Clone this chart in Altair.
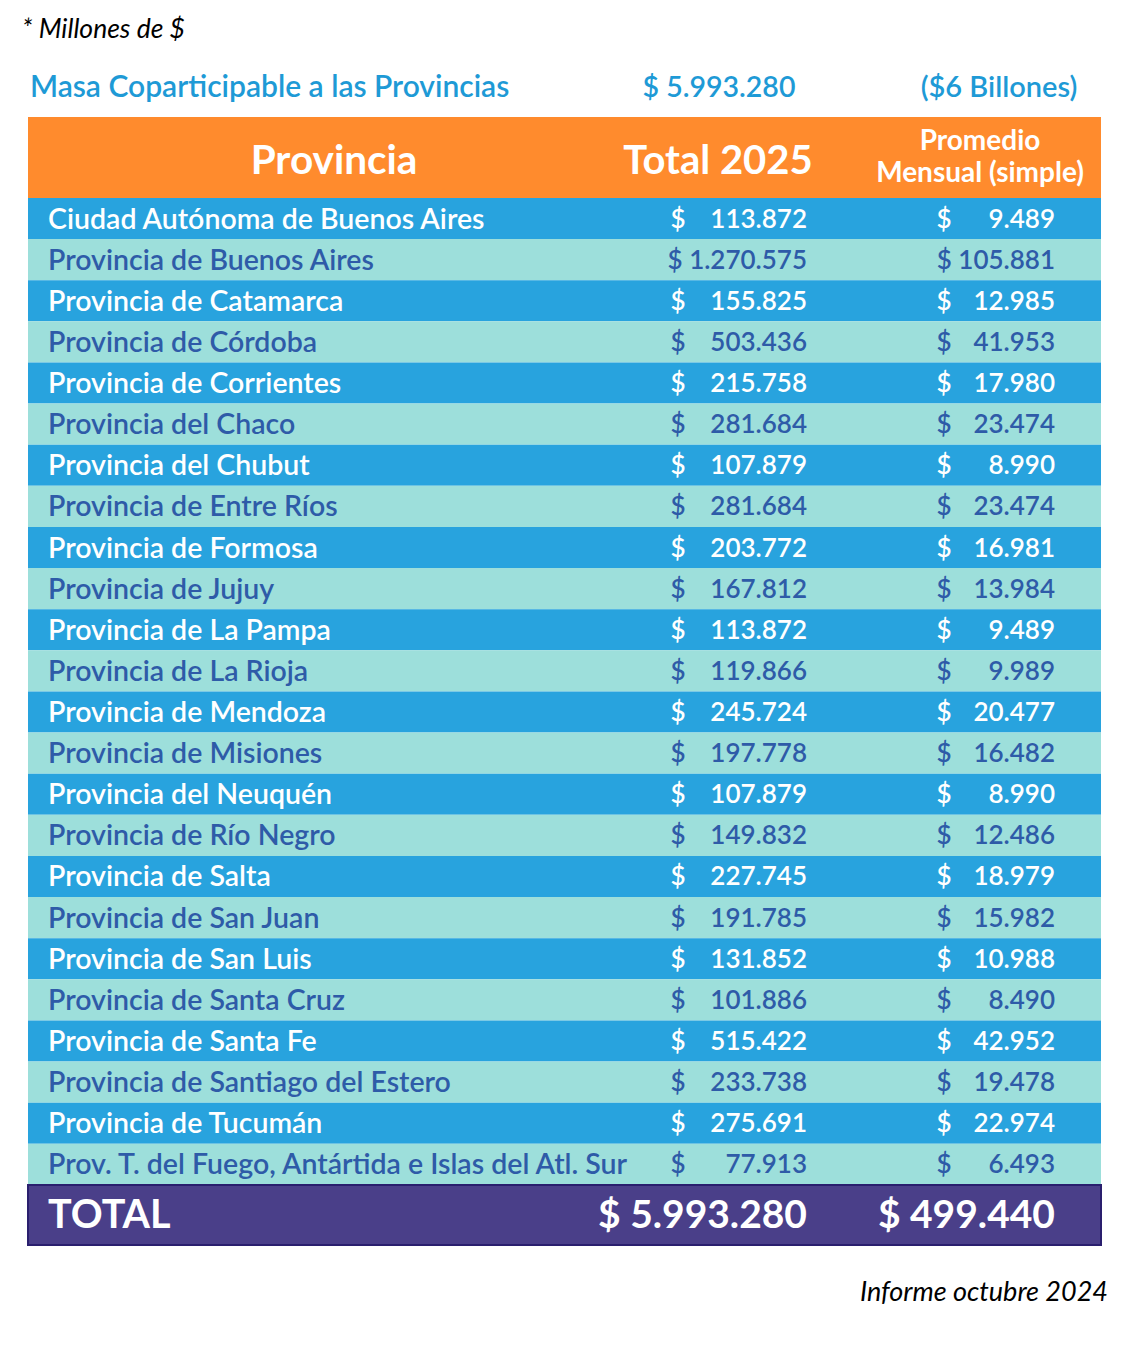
import altair as alt
import pandas as pd

provincias = [
    "Ciudad Autónoma de Buenos Aires",
    "Provincia de Buenos Aires",
    "Provincia de Catamarca",
    "Provincia de Córdoba",
    "Provincia de Corrientes",
    "Provincia del Chaco",
    "Provincia del Chubut",
    "Provincia de Entre Ríos",
    "Provincia de Formosa",
    "Provincia de Jujuy",
    "Provincia de La Pampa",
    "Provincia de La Rioja",
    "Provincia de Mendoza",
    "Provincia de Misiones",
    "Provincia del Neuquén",
    "Provincia de Río Negro",
    "Provincia de Salta",
    "Provincia de San Juan",
    "Provincia de San Luis",
    "Provincia de Santa Cruz",
    "Provincia de Santa Fe",
    "Provincia de Santiago del Estero",
    "Provincia de Tucumán",
    "Prov. T. del Fuego, Antártida e Islas del Atl. Sur",
]
total_2025 = [113872, 1270575, 155825, 503436, 215758, 281684, 107879, 281684,
              203772, 167812, 113872, 119866, 245724, 197778, 107879, 149832,
              227745, 191785, 131852, 101886, 515422, 233738, 275691, 77913]
promedio_mensual = [9489, 105881, 12985, 41953, 17980, 23474, 8990, 23474,
                    16981, 13984, 9489, 9989, 20477, 16482, 8990, 12486,
                    18979, 15982, 10988, 8490, 42952, 19478, 22974, 6493]
total_general = 5993280
total_promedio = 499440


def fmt(v):
    return f"{v:,}".replace(",", ".")


FONT = "Lato"
DARK = "#28A3DE"
LIGHT = "#9DDFDB"
ORANGE = "#FF8B2D"
PURPLE = "#4A3F89"
NAVY = "#2E5BA8"
TITLE = "#1E9AD6"

ROWF = 28.5
NUMF = 26


def px(x):
    return x - 8


rows = pd.DataFrame({
    "prov": provincias,
    "tv": total_2025,
    "pv": promedio_mensual,
    "row": list(range(len(provincias))),
})
rows["dark"] = rows["row"] % 2 == 0
rows["row2"] = rows["row"] + 1
rows["mid"] = rows["row"] + 0.5
rows["wide1"] = rows["tv"] >= 1_000_000
rows["wide2"] = rows["pv"] >= 100_000
rows["total"] = [("$ " if w else "") + fmt(v) for v, w in zip(rows["tv"], rows["wide1"])]
rows["prom"] = [("$ " if w else "") + fmt(v) for v, w in zip(rows["pv"], rows["wide2"])]

tot = pd.DataFrame({
    "label": ["TOTAL"],
    "total": ["$ " + fmt(total_general)],
    "prom": ["$ " + fmt(total_promedio)],
    "row": [len(provincias)],
    "row2": [len(provincias) + 1.46],
    "mid": [len(provincias) + 0.73],
})

yscale = alt.Scale(domain=[-190 / 41.12, (1332 - 190) / 41.12], reverse=True, nice=False, zero=False)
Y = alt.Y("row:Q", scale=yscale, axis=None)
Y2 = alt.Y2("row2:Q")
YM = alt.Y("mid:Q", scale=yscale, axis=None)

base = alt.Chart(rows)

bands = base.mark_rect().encode(
    x=alt.value(px(28)), x2=alt.value(px(1101)), y=Y, y2=Y2,
    color=alt.condition("datum.dark", alt.value(DARK), alt.value(LIGHT)),
)
txtcol = alt.condition("datum.dark", alt.value("white"), alt.value(NAVY))

labels = base.mark_text(align="left", baseline="middle", font=FONT, fontSize=ROWF, fontWeight=600, dy=1).encode(
    x=alt.value(px(48)), y=YM, text="prov:N", color=txtcol)
d1 = base.transform_filter("!datum.wide1").mark_text(
    align="center", baseline="middle", font=FONT, fontSize=NUMF, fontWeight=600, dy=1).encode(
    x=alt.value(px(678)), y=YM, text=alt.value("$"), color=txtcol)
v1 = base.mark_text(align="right", baseline="middle", font=FONT, fontSize=NUMF, fontWeight=600, dy=1).encode(
    x=alt.value(px(807)), y=YM, text="total:N", color=txtcol)
d2 = base.transform_filter("!datum.wide2").mark_text(
    align="center", baseline="middle", font=FONT, fontSize=NUMF, fontWeight=600, dy=1).encode(
    x=alt.value(px(944)), y=YM, text=alt.value("$"), color=txtcol)
v2 = base.mark_text(align="right", baseline="middle", font=FONT, fontSize=NUMF, fontWeight=600, dy=1).encode(
    x=alt.value(px(1055)), y=YM, text="prom:N", color=txtcol)

tb = alt.Chart(tot)
tot_rect = tb.mark_rect(color=PURPLE, stroke="#2A1F6E", strokeWidth=2).encode(
    x=alt.value(px(28)), x2=alt.value(px(1101)), y=Y, y2=Y2)
tot_lab = tb.mark_text(align="left", baseline="middle", font=FONT, fontSize=39.5, fontWeight="bold", color="white", dy=1).encode(
    x=alt.value(px(48)), y=YM, text="label:N")
tot_v1 = tb.mark_text(align="right", baseline="middle", font=FONT, fontSize=39, fontWeight="bold", color="white", dy=1).encode(
    x=alt.value(px(807)), y=YM, text="total:N")
tot_v2 = tb.mark_text(align="right", baseline="middle", font=FONT, fontSize=39, fontWeight="bold", color="white", dy=1).encode(
    x=alt.value(px(1055)), y=YM, text="prom:N")

# header
header = alt.Chart(pd.DataFrame({"k": [0]}))
head_rect = header.mark_rect(color=ORANGE).encode(
    x=alt.value(px(28)), x2=alt.value(px(1101)), y=alt.value(117 - 8), y2=alt.value(198 - 8))
h1 = header.mark_text(align="center", baseline="middle", font=FONT, fontSize=40.5, fontWeight="bold", color="white").encode(
    x=alt.value(px(334)), y=alt.value(162 - 8), text=alt.value("Provincia"))
h2 = header.mark_text(align="center", baseline="middle", font=FONT, fontSize=40, fontWeight="bold", color="white").encode(
    x=alt.value(px(718)), y=alt.value(162 - 8), text=alt.value("Total 2025"))
h3 = header.mark_text(align="center", baseline="middle", font=FONT, fontSize=28, fontWeight="bold", color="white").encode(
    x=alt.value(px(980)), y=alt.value(142 - 8), text=alt.value("Promedio"))
h4 = header.mark_text(align="center", baseline="middle", font=FONT, fontSize=28, fontWeight="bold", color="white").encode(
    x=alt.value(px(980)), y=alt.value(174 - 8), text=alt.value("Mensual (simple)"))

note = header.mark_text(align="left", baseline="middle", font=FONT, fontSize=26.5, fontStyle="italic", color="black").encode(
    x=alt.value(px(22)), y=alt.value(30 - 8), text=alt.value("* Millones de $"))
t1 = header.mark_text(align="left", baseline="middle", font=FONT, fontSize=30, fontWeight=600, color=TITLE).encode(
    x=alt.value(px(30)), y=alt.value(88 - 8), text=alt.value("Masa Coparticipable a las Provincias"))
t2 = header.mark_text(align="center", baseline="middle", font=FONT, fontSize=28.5, fontWeight=600, color=TITLE).encode(
    x=alt.value(px(719)), y=alt.value(88 - 8), text=alt.value("$ " + fmt(total_general)))
t3 = header.mark_text(align="center", baseline="middle", font=FONT, fontSize=29, fontWeight=600, color=TITLE).encode(
    x=alt.value(px(999)), y=alt.value(88 - 8), text=alt.value("($6 Billones)"))
src = header.mark_text(align="right", baseline="middle", font=FONT, fontSize=27, fontStyle="italic", color="black").encode(
    x=alt.value(px(1108)), y=alt.value(1293 - 8), text=alt.value("Informe octubre 2024"))

chart = alt.layer(
    bands, labels, d1, v1, d2, v2,
    tot_rect, tot_lab, tot_v1, tot_v2,
    head_rect, h1, h2, h3, h4,
    note, t1, t2, t3, src,
).properties(
    width=1116, height=1332, padding=0, autosize=alt.AutoSizeParams(type="none"),
    background="white",
).configure_view(stroke=None)

chart.save("out.html", embed_options={"renderer": "svg", "actions": False})
